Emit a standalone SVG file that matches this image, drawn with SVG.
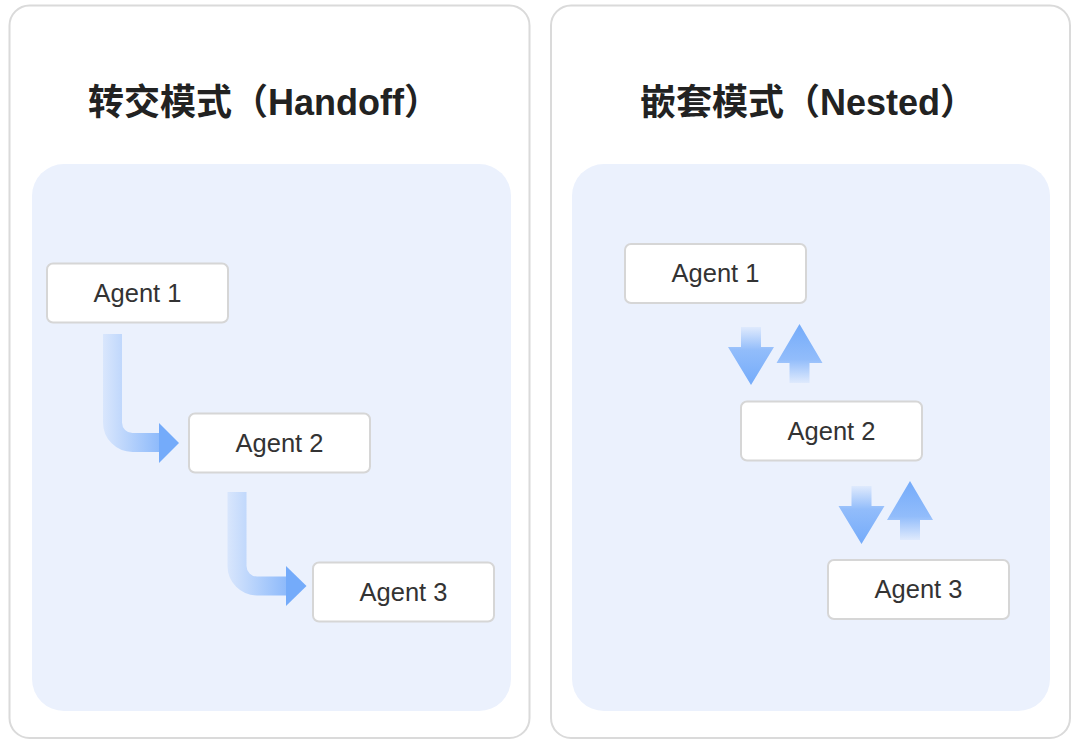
<svg xmlns="http://www.w3.org/2000/svg" width="1080" height="746" viewBox="0 0 1080 746">
  <style>
    .outer { fill: #ffffff; stroke: #dadada; stroke-width: 2; }
    .inner { fill: #ebf1fd; }
    .box { fill: #ffffff; stroke: #d6d6d6; stroke-width: 2; }
    .title { font-family: "Liberation Sans", "Noto Sans CJK SC", sans-serif; font-weight: bold; font-size: 36px; fill: #222222; }
    .label { font-family: "Liberation Sans", "Noto Sans CJK SC", sans-serif; font-size: 25.5px; fill: #333333; text-anchor: middle; }
  </style>
  <defs>
    <linearGradient id="gH1" gradientUnits="userSpaceOnUse" x1="103" y1="0" x2="179" y2="0">
      <stop offset="0" stop-color="#74abfa" stop-opacity="0.15"/>
      <stop offset="1" stop-color="#74abfa" stop-opacity="1"/>
    </linearGradient>
    <linearGradient id="gH2" gradientUnits="userSpaceOnUse" x1="227" y1="0" x2="307" y2="0">
      <stop offset="0" stop-color="#74abfa" stop-opacity="0.15"/>
      <stop offset="1" stop-color="#74abfa" stop-opacity="1"/>
    </linearGradient>
    <linearGradient id="gDown" x1="0" y1="0" x2="0" y2="1">
      <stop offset="0" stop-color="#74abfa" stop-opacity="0.1"/>
      <stop offset="0.4" stop-color="#74abfa" stop-opacity="0.75"/>
      <stop offset="1" stop-color="#74abfa" stop-opacity="1"/>
    </linearGradient>
    <linearGradient id="gUp" x1="0" y1="1" x2="0" y2="0">
      <stop offset="0" stop-color="#74abfa" stop-opacity="0.1"/>
      <stop offset="0.4" stop-color="#74abfa" stop-opacity="0.75"/>
      <stop offset="1" stop-color="#74abfa" stop-opacity="1"/>
    </linearGradient>
    <path id="downArrow" d="M-10,0 H10 V20 H23 L0,58 L-23,20 H-10 Z" fill="url(#gDown)"/>
    <path id="upArrow" d="M0,0 L23,39 H10 V59 H-10 V39 H-23 Z" fill="url(#gUp)"/>
  </defs>

  <g id="panel-handoff">
    <rect class="outer" x="9.5" y="5.5" width="520" height="732.5" rx="20"/>
    <rect class="inner" x="32" y="164" width="479" height="547" rx="32"/>
    <text class="title" x="88" y="115">转交模式（Handoff）</text>
  </g>

  <g id="panel-nested">
    <rect class="outer" x="551" y="5.5" width="519" height="732.5" rx="20"/>
    <rect class="inner" x="572" y="164" width="478" height="547" rx="32"/>
    <text class="title" x="640" y="115">嵌套模式（Nested）</text>
  </g>

  <g id="connectors">
    <path d="M112.5,334 V422.5 A20,20 0 0 0 132.5,442.5 H160" fill="none" stroke="url(#gH1)" stroke-width="19"/>
    <polygon points="159,423 179,443 159,463" fill="#74abfa"/>
    <path d="M237,492 V566 A20,20 0 0 0 257,586 H287" fill="none" stroke="url(#gH2)" stroke-width="19"/>
    <polygon points="286,566 306.5,586 286,606" fill="#74abfa"/>

    <use href="#downArrow" x="751" y="327"/>
    <use href="#upArrow" x="799.5" y="324"/>
    <use href="#downArrow" x="861.5" y="486"/>
    <use href="#upArrow" x="910" y="481"/>
  </g>

  <g id="handoff-agent1">
    <rect class="box" x="47" y="263.5" width="181" height="59" rx="6"/>
    <text class="label" x="137.5" y="301.5">Agent 1</text>
  </g>
  <g id="handoff-agent2">
    <rect class="box" x="189" y="413.5" width="181" height="59" rx="6"/>
    <text class="label" x="279.5" y="451.5">Agent 2</text>
  </g>
  <g id="handoff-agent3">
    <rect class="box" x="313" y="562.5" width="181" height="59" rx="6"/>
    <text class="label" x="403.5" y="600.5">Agent 3</text>
  </g>

  <g id="nested-agent1">
    <rect class="box" x="625" y="244" width="181" height="59" rx="6"/>
    <text class="label" x="715.5" y="282">Agent 1</text>
  </g>
  <g id="nested-agent2">
    <rect class="box" x="741" y="401.5" width="181" height="59" rx="6"/>
    <text class="label" x="831.5" y="439.5">Agent 2</text>
  </g>
  <g id="nested-agent3">
    <rect class="box" x="828" y="560" width="181" height="59" rx="6"/>
    <text class="label" x="918.5" y="598">Agent 3</text>
  </g>
</svg>
